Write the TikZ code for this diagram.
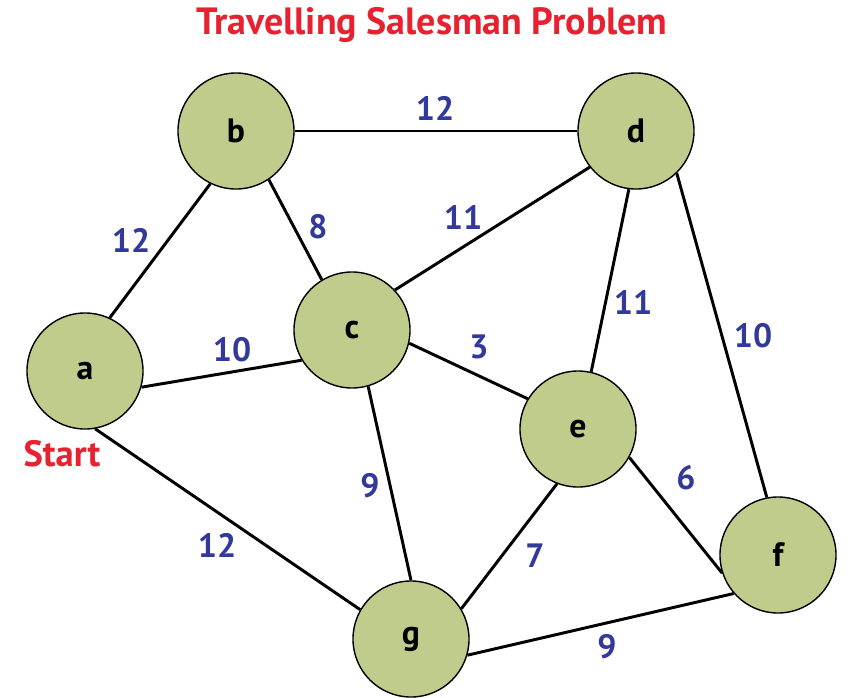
\documentclass[tikz,border=0pt]{standalone}
\usepackage{fontspec}
\setmainfont{PT Sans}
\usepackage{tikz}
\usetikzlibrary{positioning}
\definecolor{citygreen}{RGB}{192,204,140}
\definecolor{weightblue}{RGB}{51,57,154}
\definecolor{titlered}{RGB}{232,32,48}
\tikzset{
  city/.style={circle,draw=black,line width=1pt,fill=citygreen,minimum size=2.9cm,inner sep=0pt,font=\fontsize{24}{24}\selectfont\bfseries},
  road/.style={line width=2.1pt,black},
  weight/.style={text=weightblue,font=\fontsize{24}{24}\selectfont\bfseries}
}
\begin{document}
\begin{tikzpicture}[x=0.025cm,y=-0.025cm]
        \useasboundingbox (0,0) rectangle (851,698);

        \node[text=titlered,font=\fontsize{27}{27}\selectfont\bfseries] (title) at (432,25) {Travelling Salesman Problem};

        \node[city] (a) at (85,371) {a};
        \node[city] (b) at (236,131) {b};
        \node[city] (c) at (352,330) {c};
        \node[city] (d) at (636,131) {d};
        \node[city] (e) at (578,429) {e};
        \node[city] (f) at (778,555) {f};
        \node[city] (g) at (411,639) {g};

        \node[text=titlered,font=\fontsize{26}{26}\selectfont\bfseries] (start) at (62,454) {Start};

        % roads between the cities
        \draw[road] (a.65) -- (b.-116);
        \draw[road] (a.-16) -- (c.211);
        \draw[road] (a.-80) -- (g.150);
        \draw[road] (b.0) -- (d.180);
        \draw[road] (b.-56) -- (c.121);
        \draw[road] (c.43) -- (d.218);
        \draw[road] (c.-13) -- (e.149);
        \draw[road] (c.-74) -- (g.90);
        \draw[road] (d.-97) -- (e.77);
        \draw[road] (d.-46) -- (f.101);
        \draw[road] (e.-29) -- (f.198);
        \draw[road] (e.-111) -- (g.31);
        \draw[road] (g.-16) -- (f.221);

        \node[weight] (wbd) at (435,108) {12};
        \node[weight] (wab) at (131,240) {12};
        \node[weight] (wbc) at (318,227) {8};
        \node[weight] (wcd) at (463,217) {11};
        \node[weight] (wde) at (633,302) {11};
        \node[weight] (wdf) at (753,336) {10};
        \node[weight] (wac) at (232,350) {10};
        \node[weight] (wce) at (479,347) {3};
        \node[weight] (wcg) at (370,486) {9};
        \node[weight] (wef) at (686,478) {6};
        \node[weight] (wag) at (217,545) {12};
        \node[weight] (weg) at (535,556) {7};
        \node[weight] (wgf) at (607,647) {9};

    \end{tikzpicture}
\end{document}
